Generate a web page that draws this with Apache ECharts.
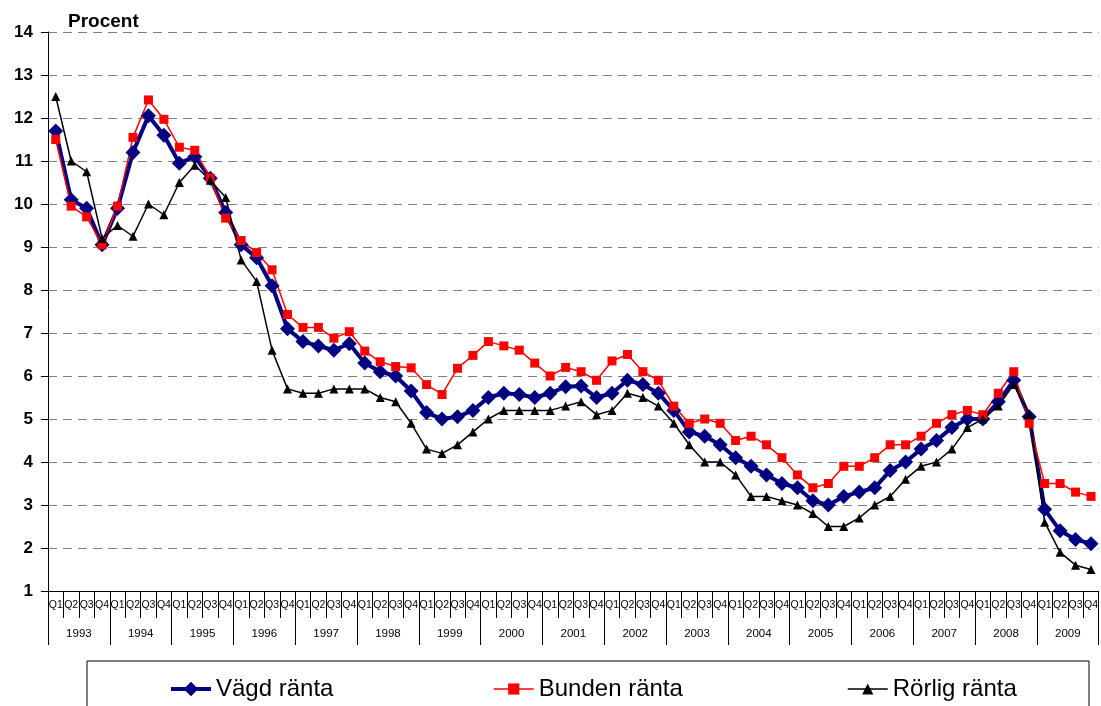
<!DOCTYPE html>
<html>
<head>
<meta charset="utf-8">
<script src="https://cdn.jsdelivr.net/npm/echarts@6/dist/echarts.min.js"></script>
<style>
  html, body { margin: 0; padding: 0; background: #fff; }
  #chart { width: 1101px; height: 706px; }
</style>
</head>
<body>
<div id="chart"></div>
<script>
const years = ['1993', '1994', '1995', '1996', '1997', '1998', '1999', '2000', '2001',
  '2002', '2003', '2004', '2005', '2006', '2007', '2008', '2009']
const quarterNames = ['Q1', 'Q2', 'Q3', 'Q4']

// one category per quarter, 1993 Q1 .. 2009 Q4
const quarters = []
years.forEach(y => quarterNames.forEach(q => quarters.push(q)))

const vagd = [11.7, 10.1, 9.9, 9.05, 9.9, 11.2, 12.05, 11.6, 10.95, 11.1,
  10.6, 9.8, 9.05, 8.75, 8.1, 7.1, 6.8, 6.7, 6.6, 6.75,
  6.3, 6.1, 6.0, 5.65, 5.15, 5.0, 5.05, 5.2, 5.5, 5.6,
  5.57, 5.5, 5.6, 5.75, 5.77, 5.5, 5.6, 5.9, 5.8, 5.6,
  5.2, 4.7, 4.6, 4.4, 4.1, 3.9, 3.7, 3.5, 3.4, 3.1,
  3.0, 3.2, 3.3, 3.4, 3.8, 4.0, 4.3, 4.5, 4.8, 5.0,
  5.0, 5.4, 5.9, 5.05, 2.9, 2.4, 2.2, 2.1]

const bunden = [11.5, 9.95, 9.7, 9.05, 9.95, 11.55, 12.42, 11.97, 11.32, 11.25,
  10.6, 9.67, 9.15, 8.87, 8.47, 7.43, 7.13, 7.13, 6.88, 7.03,
  6.58, 6.33, 6.22, 6.19, 5.8, 5.57, 6.18, 6.48, 6.8, 6.7,
  6.6, 6.3, 6.0, 6.2, 6.1, 5.9, 6.35, 6.5, 6.1, 5.9,
  5.3, 4.9, 5.0, 4.9, 4.5, 4.6, 4.4, 4.1, 3.7, 3.4,
  3.5, 3.9, 3.9, 4.1, 4.4, 4.4, 4.6, 4.9, 5.1, 5.2,
  5.1, 5.6, 6.1, 4.9, 3.5, 3.5, 3.3, 3.2]

const rorlig = [12.5, 11.0, 10.75, 9.2, 9.5, 9.25, 10.0, 9.75, 10.5, 10.9,
  10.55, 10.15, 8.7, 8.2, 6.6, 5.7, 5.6, 5.6, 5.7, 5.7,
  5.7, 5.5, 5.4, 4.9, 4.3, 4.2, 4.4, 4.7, 5.0, 5.2,
  5.2, 5.2, 5.2, 5.3, 5.4, 5.1, 5.2, 5.6, 5.5, 5.3,
  4.9, 4.4, 4.0, 4.0, 3.7, 3.2, 3.2, 3.1, 3.0, 2.8,
  2.5, 2.5, 2.7, 3.0, 3.2, 3.6, 3.9, 4.0, 4.3, 4.8,
  5.0, 5.3, 5.8, 5.1, 2.6, 1.9, 1.6, 1.5]

const font = 'Arial, "Liberation Sans", sans-serif'

const legendItem = (name, left, h, lw) => ({
  data: [name],
  left: left,
  top: 672,
  itemWidth: 40,
  itemHeight: h,
  lineStyle: { width: lw },
  textStyle: { fontSize: 24, color: '#000', fontFamily: font }
})

const chart = echarts.init(document.getElementById('chart'))

const option = {
  backgroundColor: '#fff',
  animation: false,
  title: {
    text: 'Procent',
    left: 63,
    top: 7,
    textStyle: { fontSize: 19, fontWeight: 'bold', color: '#000', fontFamily: font }
  },
  grid: {
    left: 48,
    right: 0,
    top: 32,
    bottom: 115
  },
  legend: [
    legendItem('Vägd ränta', 164, 18, 4),
    legendItem('Bunden ränta', 488, 14, 1.5),
    legendItem('Rörlig ränta', 842, 14, 1.5)
  ],
  graphic: [
    {
      type: 'rect',
      shape: { x: 87, y: 661, width: 1002, height: 60 },
      style: { fill: 'none', stroke: '#000', lineWidth: 1 },
      z: -1
    }
  ],
  xAxis: [
    {
      type: 'category',
      data: quarters,
      boundaryGap: true,
      axisLine: { show: true, lineStyle: { color: '#000', width: 1 } },
      axisTick: { show: true, length: 27, interval: 0, lineStyle: { color: '#000' } },
      axisLabel: { interval: 0, margin: 9, fontSize: 10.5, color: '#000', fontFamily: font },
      splitLine: { show: false }
    },
    {
      type: 'category',
      data: years,
      position: 'bottom',
      boundaryGap: true,
      axisLine: { show: false },
      axisTick: { show: true, length: 54, interval: 0, lineStyle: { color: '#000' } },
      axisLabel: { interval: 0, margin: 37, fontSize: 11.5, color: '#000', fontFamily: font },
      splitLine: { show: false }
    }
  ],
  yAxis: {
    type: 'value',
    min: 1,
    max: 14,
    interval: 1,
    axisLine: { show: true, lineStyle: { color: '#000', width: 1 } },
    axisTick: { show: true, length: 7, lineStyle: { color: '#000' } },
    axisLabel: { fontSize: 17, fontWeight: 'bold', color: '#000', margin: 15, fontFamily: font },
    splitLine: {
      show: true,
      lineStyle: { color: '#808080', type: [9, 6], width: 1 }
    }
  },
  series: [
    {
      name: 'Vägd ränta',
      type: 'line',
      data: vagd,
      symbol: 'diamond',
      symbolSize: 15,
      lineStyle: { color: '#000080', width: 4 },
      itemStyle: { color: '#000080' }
    },
    {
      name: 'Bunden ränta',
      type: 'line',
      data: bunden,
      symbol: 'rect',
      symbolSize: 9,
      lineStyle: { color: '#ff0000', width: 1.5 },
      itemStyle: { color: '#ff0000' }
    },
    {
      name: 'Rörlig ränta',
      type: 'line',
      data: rorlig,
      symbol: 'triangle',
      symbolSize: 9,
      lineStyle: { color: '#000', width: 1.5 },
      itemStyle: { color: '#000' }
    }
  ]
}

chart && chart.setOption(option)
</script>
</body>
</html>
